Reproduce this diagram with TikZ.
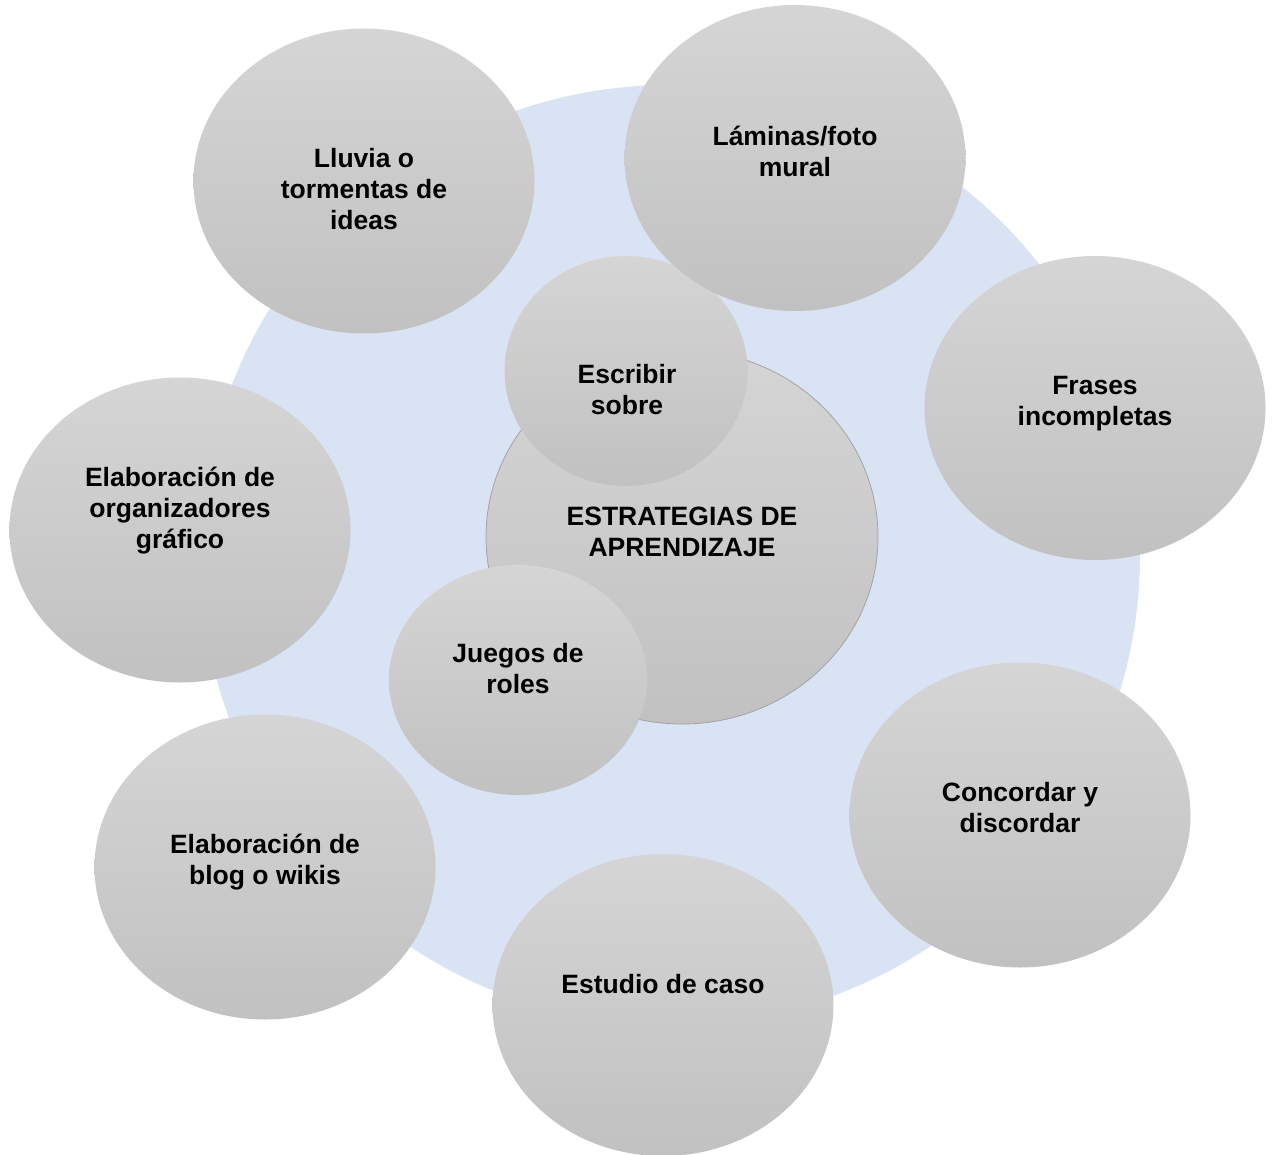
\documentclass[tikz,border=0pt]{standalone}
\usepackage{fontspec}
\setmainfont{Liberation Sans}
\usetikzlibrary{shapes.geometric}
\definecolor{bgblue}{HTML}{DAE3F3}
\definecolor{gtop}{HTML}{D5D5D5}
\definecolor{gbot}{HTML}{C1C1C1}
\definecolor{rimgray}{HTML}{A3A3A3}
\begin{document}
\begin{tikzpicture}[x=1pt,y=-1pt,
  bub/.style={ellipse, inner sep=0pt, top color=gtop, bottom color=gbot, draw=none},
  lbl/.style={font=\fontsize{26.5}{31}\selectfont\bfseries, align=center, inner sep=0pt}]
\useasboundingbox (0,0) rectangle (1273,1155);
% background circle
\node[circle, fill=bgblue, minimum size=940pt, inner sep=0pt] (bg) at (670,555) {};
% central circle
\node[bub, draw=rimgray, line width=0.8pt, minimum width=392pt, minimum height=374pt] (core) at (682,537) {};
% inner bubbles
\node[bub, minimum width=243pt, minimum height=230pt] (escribir) at (626,371) {};
\node[bub, minimum width=258pt, minimum height=230pt] (juegos) at (518,680) {};
% outer bubbles
\node[bub, minimum width=341pt, minimum height=305pt] (lluvia) at (364,181) {};
\node[bub, minimum width=341pt, minimum height=306pt] (laminas) at (795,158) {};
\node[bub, minimum width=341pt, minimum height=304pt] (frases) at (1095,408) {};
\node[bub, minimum width=341pt, minimum height=305pt] (organiz) at (180,530) {};
\node[bub, minimum width=341pt, minimum height=305pt] (concordar) at (1020,815) {};
\node[bub, minimum width=341pt, minimum height=305pt] (blog) at (265,867) {};
\node[bub, minimum width=341pt, minimum height=302pt] (estudio) at (663,1005) {};
% labels
\node[lbl] (tcore) at (682,532) {ESTRATEGIAS DE\\APRENDIZAJE};
\node[lbl] (tescribir) at (627,389.5) {Escribir\\sobre};
\node[lbl] (tjuegos) at (518,668.5) {Juegos de\\roles};
\node[lbl] (tlluvia) at (364,189) {Lluvia o\\tormentas de\\ideas};
\node[lbl] (tlaminas) at (795,151.5) {Láminas/foto\\mural};
\node[lbl] (tfrases) at (1095,403.5) {Frases\\incompletas};
\node[lbl] (torganiz) at (180,511) {Elaboración de\\organizadores\\gráfico};
\node[lbl] (tconcordar) at (1020,807.5) {Concordar y\\discordar};
\node[lbl] (tblog) at (265,862.5) {Elaboración de\\blog o wikis};
\node[lbl] (testudio) at (663,984) {Estudio de caso};
\end{tikzpicture}
\end{document}
